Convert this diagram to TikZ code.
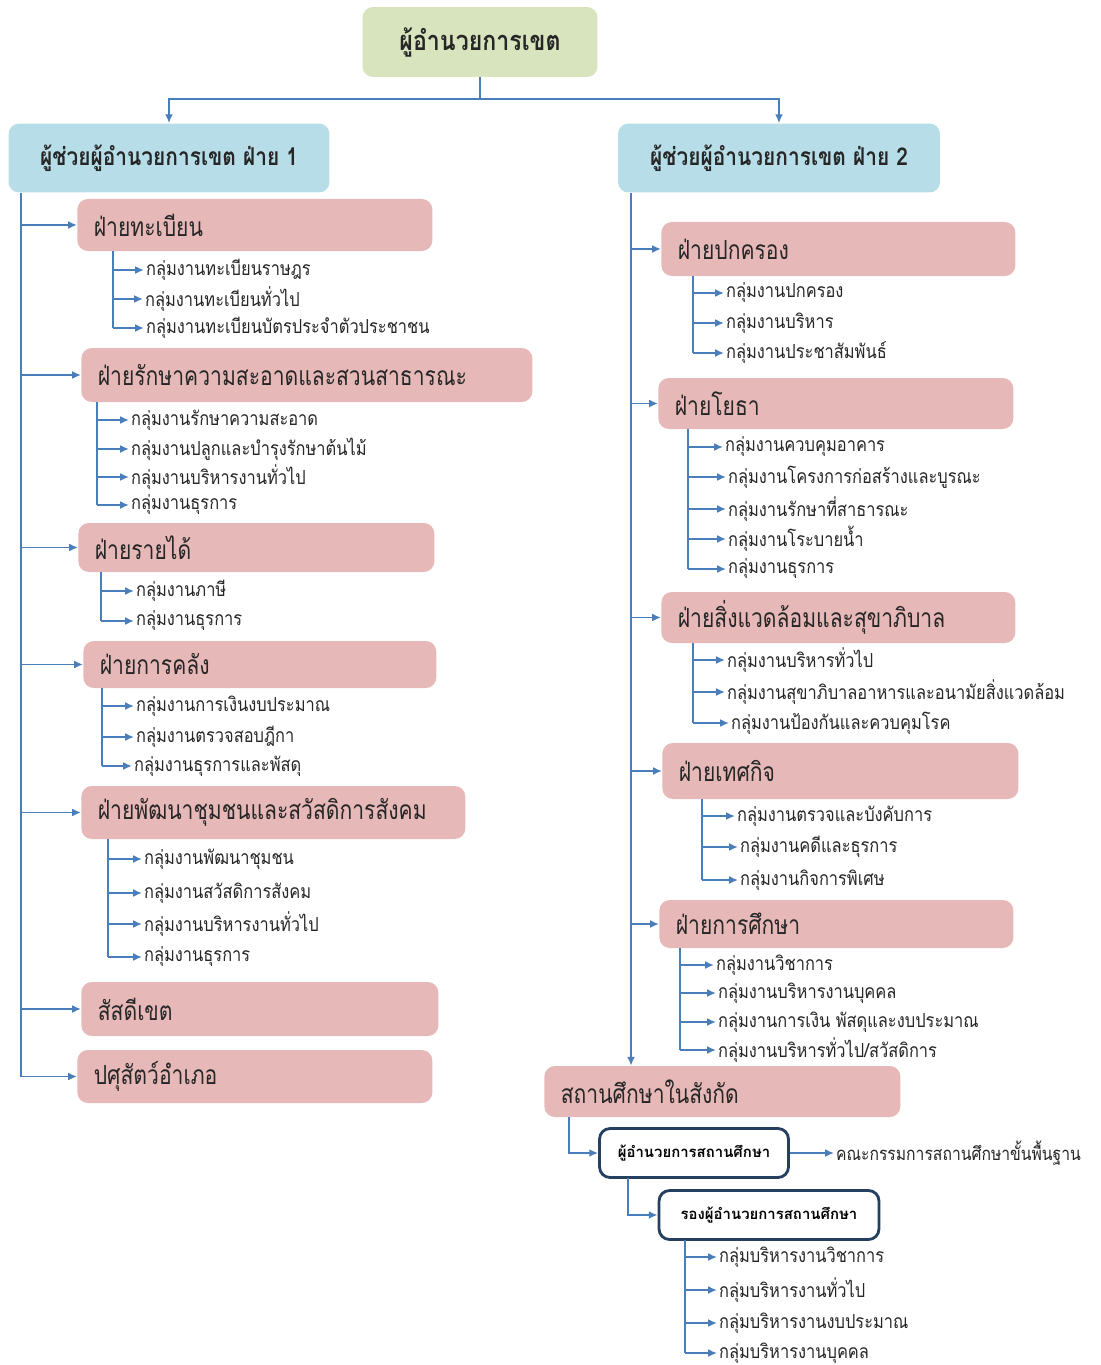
\documentclass[tikz,border=0pt]{standalone}
\usepackage{fontspec}
\setmainfont[Script=Thai]{Loma}
\newfontfamily\narrowthai[Script=Thai,FakeStretch=0.85]{Loma}
\newfontfamily\slimthai[Script=Thai,FakeStretch=0.8]{Loma}
\usetikzlibrary{arrows.meta}

\definecolor{linkblue}{HTML}{4A7EBB}
\definecolor{chiefgreen}{HTML}{D7E4BD}
\definecolor{deputyblue}{HTML}{B7DEE8}
\definecolor{zonepink}{HTML}{E6B9B8}
\definecolor{schoolnavy}{HTML}{243F60}
\definecolor{inkgrey}{HTML}{262626}

\begin{document}
\begin{tikzpicture}[x=0.02cm,y=-0.02cm,
  line/.style={draw=linkblue,line width=1.1pt},
  conn/.style={line,-{Latex[length=5pt,width=4.5pt]}},
  chief/.style={fill=chiefgreen,rounded corners=6pt,text=inkgrey,
    font=\narrowthai\fontsize{15.5}{17}\selectfont\bfseries},
  deputy/.style={fill=deputyblue,rounded corners=6pt,text=inkgrey,
    font=\narrowthai\fontsize{14}{16}\selectfont\bfseries},
  zonebox/.style={fill=zonepink,rounded corners=6pt,anchor=west,align=left,
    inner xsep=0.33cm,text=inkgrey,font=\slimthai\fontsize{15}{17}\selectfont},
  leaf/.style={anchor=west,inner sep=1pt,text=inkgrey,
    font=\narrowthai\fontsize{11}{13}\selectfont},
  headbox/.style={draw=schoolnavy,line width=1.6pt,fill=white,rounded corners=6pt,
    text=black,font=\fontsize{8.5}{10}\selectfont\bfseries}]
\useasboundingbox (0,0) rectangle (1101,1365);
\newcommand\zone[6]{
\pgfmathsetmacro\zw{(#4-#2)*0.02-0.66}
\pgfmathsetmacro\zh{(#5-#3)*0.02}
\node[zonebox,text width=\zw cm,minimum height=\zh cm] (#1) at (#2,{(#3+#5)/2}) {#6};
}
\newcommand\leaf[5]{
\node[leaf] (#1) at (#3,#4) {#5};
\draw[conn] (#2 |- #1.west) -- (#1.west);
}
% top of the chart
\node[chief,minimum width=4.7cm,minimum height=1.4cm] (dir) at (480,42) {ผู้อำนวยการเขต};
\node[deputy,minimum width=6.42cm,minimum height=1.38cm] (dep1) at (169,158) {ผู้ช่วยผู้อำนวยการเขต ฝ่าย 1};
\node[deputy,minimum width=6.44cm,minimum height=1.38cm] (dep2) at (779,158) {ผู้ช่วยผู้อำนวยการเขต ฝ่าย 2};
\coordinate (bus) at (480,99);
\draw[line] (dir.south) -- (bus);
\draw[conn] (bus) -| (dep1.north);
\draw[conn] (bus) -| (dep2.north);

% left side
\coordinate (trunkL) at (21,193);
\zone{reg}{77}{199}{432}{251}{ฝ่ายทะเบียน}
\zone{cln}{81}{348}{532}{402}{ฝ่ายรักษาความสะอาดและสวนสาธารณะ}
\zone{rev}{78}{523}{434}{572}{ฝ่ายรายได้}
\zone{fin}{83}{641}{436}{688}{ฝ่ายการคลัง}
\zone{soc}{81}{786}{465}{839}{ฝ่ายพัฒนาชุมชนและสวัสดิการสังคม}
\zone{rsv}{81}{982}{438}{1036}{สัสดีเขต}
\zone{vet}{77}{1050}{432}{1103}{ปศุสัตว์อำเภอ}
\draw[line] (trunkL) -- (trunkL |- vet.west);
\foreach \z in {reg,cln,rev,fin,soc,rsv,vet}
  \draw[conn] (trunkL |- \z.west) -- (\z.west);

\coordinate (regs) at (113,251);
\leaf{reg1}{regs}{144}{270}{กลุ่มงานทะเบียนราษฎร}
\leaf{reg2}{regs}{143}{299}{กลุ่มงานทะเบียนทั่วไป}
\leaf{reg3}{regs}{144}{328}{กลุ่มงานทะเบียนบัตรประจำตัวประชาชน}
\draw[line] (regs) -- (regs |- reg3.west);

\coordinate (clns) at (97,402);
\leaf{cln1}{clns}{129}{420}{กลุ่มงานรักษาความสะอาด}
\leaf{cln2}{clns}{129}{449}{กลุ่มงานปลูกและบำรุงรักษาต้นไม้}
\leaf{cln3}{clns}{129}{477}{กลุ่มงานบริหารงานทั่วไป}
\leaf{cln4}{clns}{129}{505}{กลุ่มงานธุรการ}
\draw[line] (clns) -- (clns |- cln4.west);

\coordinate (revs) at (101,572);
\leaf{rev1}{revs}{134}{591}{กลุ่มงานภาษี}
\leaf{rev2}{revs}{134}{621}{กลุ่มงานธุรการ}
\draw[line] (revs) -- (revs |- rev2.west);

\coordinate (fins) at (102,688);
\leaf{fin1}{fins}{134}{706}{กลุ่มงานการเงินงบประมาณ}
\leaf{fin2}{fins}{134}{737}{กลุ่มงานตรวจสอบฎีกา}
\leaf{fin3}{fins}{132}{766}{กลุ่มงานธุรการและพัสดุ}
\draw[line] (fins) -- (fins |- fin3.west);

\coordinate (socs) at (108,839);
\leaf{soc1}{socs}{142}{859}{กลุ่มงานพัฒนาชุมชน}
\leaf{soc2}{socs}{142}{893}{กลุ่มงานสวัสดิการสังคม}
\leaf{soc3}{socs}{142}{924}{กลุ่มงานบริหารงานทั่วไป}
\leaf{soc4}{socs}{142}{957}{กลุ่มงานธุรการ}
\draw[line] (socs) -- (socs |- soc4.west);

% right side
\coordinate (trunkR) at (631,193);
\zone{gov}{661}{222}{1015}{276}{ฝ่ายปกครอง}
\zone{pwk}{658}{378}{1013}{429}{ฝ่ายโยธา}
\zone{env}{661}{592}{1015}{643}{ฝ่ายสิ่งแวดล้อมและสุขาภิบาล}
\zone{pol}{662}{743}{1018}{799}{ฝ่ายเทศกิจ}
\zone{edu}{659}{900}{1013}{948}{ฝ่ายการศึกษา}
\zone{sch}{544}{1066}{900}{1117}{สถานศึกษาในสังกัด}
\foreach \z in {gov,pwk,env,pol,edu}
  \draw[conn] (trunkR |- \z.west) -- (\z.west);
\draw[conn] (trunkR) -- (trunkR |- sch.north);

\coordinate (govs) at (693,276);
\leaf{gov1}{govs}{724}{293}{กลุ่มงานปกครอง}
\leaf{gov2}{govs}{724}{323}{กลุ่มงานบริหาร}
\leaf{gov3}{govs}{724}{353}{กลุ่มงานประชาสัมพันธ์}
\draw[line] (govs) -- (govs |- gov3.west);

\coordinate (pwks) at (688,429);
\leaf{pwk1}{pwks}{723}{447}{กลุ่มงานควบคุมอาคาร}
\leaf{pwk2}{pwks}{726}{477}{กลุ่มงานโครงการก่อสร้างและบูรณะ}
\leaf{pwk3}{pwks}{726}{509}{กลุ่มงานรักษาที่สาธารณะ}
\leaf{pwk4}{pwks}{726}{539}{กลุ่มงานโระบายน้ำ}
\leaf{pwk5}{pwks}{726}{569}{กลุ่มงานธุรการ}
\draw[line] (pwks) -- (pwks |- pwk5.west);

\coordinate (envs) at (693,643);
\leaf{env1}{envs}{725}{660}{กลุ่มงานบริหารทั่วไป}
\leaf{env2}{envs}{725}{692}{กลุ่มงานสุขาภิบาลอาหารและอนามัยสิ่งแวดล้อม}
\leaf{env3}{envs}{729}{723}{กลุ่มงานป้องกันและควบคุมโรค}
\draw[line] (envs) -- (envs |- env3.west);

\coordinate (pols) at (702,799);
\leaf{pol1}{pols}{735}{816}{กลุ่มงานตรวจและบังคับการ}
\leaf{pol2}{pols}{738}{847}{กลุ่มงานคดีและธุรการ}
\leaf{pol3}{pols}{738}{880}{กลุ่มงานกิจการพิเศษ}
\draw[line] (pols) -- (pols |- pol3.west);

\coordinate (edus) at (680,948);
\leaf{edu1}{edus}{714}{965}{กลุ่มงานวิชาการ}
\leaf{edu2}{edus}{716}{993}{กลุ่มงานบริหารงานบุคคล}
\leaf{edu3}{edus}{716}{1022}{กลุ่มงานการเงิน พัสดุและงบประมาณ}
\leaf{edu4}{edus}{716}{1050}{กลุ่มงานบริหารทั่วไป/สวัสดิการ}
\draw[line] (edus) -- (edus |- edu4.west);

% schools
\node[headbox,minimum width=3.78cm,minimum height=0.98cm] (head) at (694,1153) {ผู้อำนวยการสถานศึกษา};
\node[headbox,minimum width=4.4cm,minimum height=0.98cm] (vice) at (769,1215) {รองผู้อำนวยการสถานศึกษา};
\node[leaf,font=\narrowthai\fontsize{10.5}{12}\selectfont] (board) at (834,1153) {คณะกรรมการสถานศึกษาขั้นพื้นฐาน};
\coordinate (schs) at (569,1117);
\coordinate (heads) at (628,1178);
\draw[conn] (schs) |- (head.west);
\draw[conn] (head.east) -- (board.west);
\draw[conn] (heads) |- (vice.west);

\coordinate (vices) at (685,1240);
\leaf{vic1}{vices}{717}{1257}{กลุ่มบริหารงานวิชาการ}
\leaf{vic2}{vices}{717}{1290}{กลุ่มบริหารงานทั่วไป}
\leaf{vic3}{vices}{717}{1323}{กลุ่มบริหารงานงบประมาณ}
\leaf{vic4}{vices}{717}{1353}{กลุ่มบริหารงานบุคคล}
\draw[line] (vices) -- (vices |- vic4.west);
\end{tikzpicture}
\end{document}
